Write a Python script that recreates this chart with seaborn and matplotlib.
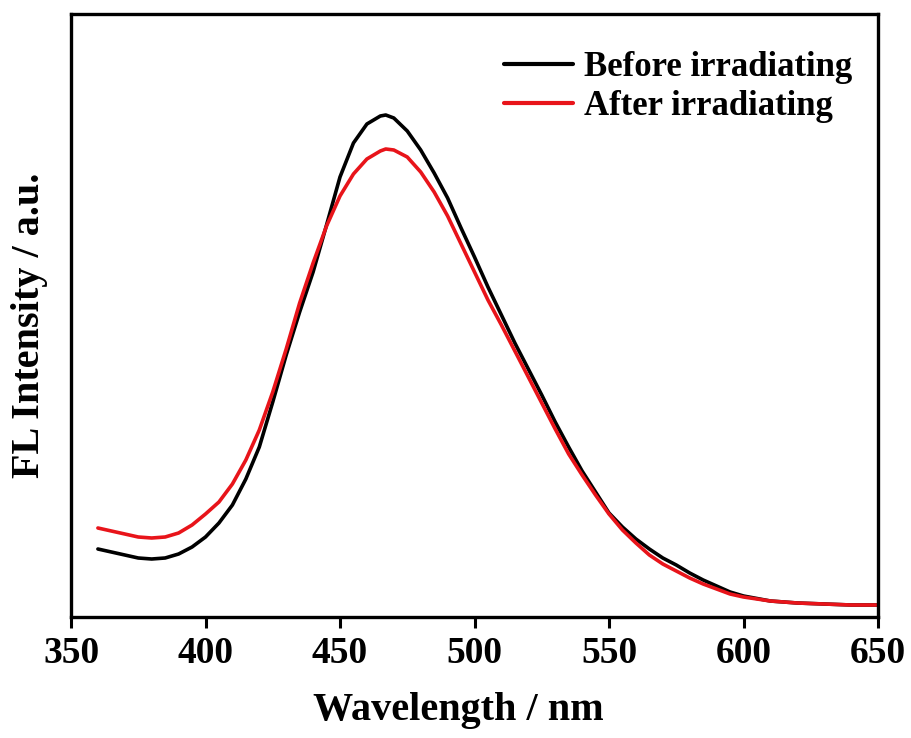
import numpy as np
import pandas as pd
import matplotlib
matplotlib.use("Agg")
import matplotlib.pyplot as plt
import seaborn as sns

wavelength = [360, 365, 370, 375, 380, 385, 390, 395, 400, 405, 410, 415, 420, 425, 430, 435,
              440, 445, 450, 455, 460, 465, 467, 470, 475, 480, 485, 490, 495, 500, 505, 510,
              515, 520, 525, 530, 535, 540, 545, 550, 555, 560, 565, 570, 575, 580, 585, 590,
              595, 600, 610, 620, 630, 640, 650]
before = [68, 65, 62, 59, 58, 59, 63, 70, 80, 94, 112, 138, 170, 215, 262, 305,
          345, 392, 440, 474, 493, 501, 502, 499, 486, 467, 444, 419, 389, 360, 330, 302,
          274, 248, 222, 195, 170, 146, 125, 104, 90, 78, 68, 59, 52, 44, 37, 31,
          25, 21, 16, 14, 13, 12, 12]
after = [89, 86, 83, 80, 79, 80, 84, 92, 103, 115, 133, 157, 187, 225, 268, 314,
         354, 391, 421, 443, 458, 466, 468, 467, 460, 445, 425, 401, 373, 345, 317, 292,
         266, 240, 214, 188, 163, 142, 122, 103, 87, 74, 62, 53, 46, 39, 33, 28,
         23, 20, 16, 14, 13, 12, 12]
series_names = ["Before irradiating", "After irradiating"]
colors = ["#000000", "#e8141a"]
xticks = [350, 400, 450, 500, 550, 600, 650]

df = pd.concat([
    pd.DataFrame({"Wavelength": wavelength, "Intensity": before, "Series": series_names[0]}),
    pd.DataFrame({"Wavelength": wavelength, "Intensity": after, "Series": series_names[1]}),
])

sns.set_style("white")
plt.rcParams["font.family"] = ["Liberation Serif", "DejaVu Serif"]
plt.rcParams["font.weight"] = "bold"
plt.rcParams["text.color"] = "black"
plt.rcParams["axes.labelcolor"] = "black"
plt.rcParams["xtick.color"] = "black"

fig = plt.figure(figsize=(9.12, 7.38), dpi=100)
ax = fig.add_axes([71/912, 1 - 617/738, (878-71)/912, (617-14)/738])

sns.lineplot(data=df, x="Wavelength", y="Intensity", hue="Series",
             palette=dict(zip(series_names, colors)), linewidth=2.6, ax=ax)

ax.set_xlim(350, 650)
ax.set_ylim(0, 603)
ax.set_xticks(xticks)
ax.set_xticklabels([str(t) for t in xticks], fontsize=27, fontweight="bold", color="black")
ax.set_yticks([])
ax.tick_params(axis="x", direction="out", length=8, width=2.2, pad=6, bottom=True, colors="black")
for s in ax.spines.values():
    s.set_linewidth(2.4)
    s.set_color("black")

ax.set_xlabel("Wavelength / nm", fontsize=29, fontweight="bold", color="black")
ax.set_ylabel("FL Intensity / a.u.", fontsize=29, fontweight="bold", color="black")
ax.xaxis.set_label_coords(0.48, -0.125)
ax.yaxis.set_label_coords(-0.029, 0.484)

leg = ax.legend(loc="upper right", frameon=False, handlelength=2.0,
                handletextpad=0.3, labelspacing=0.18, borderaxespad=0.0,
                bbox_to_anchor=(0.985, 0.962),
                prop={"size": 25, "weight": "bold"})
for line in leg.get_lines():
    line.set_linewidth(3)
for t in leg.get_texts():
    t.set_color("black")

fig.savefig("out.png", dpi=100)
